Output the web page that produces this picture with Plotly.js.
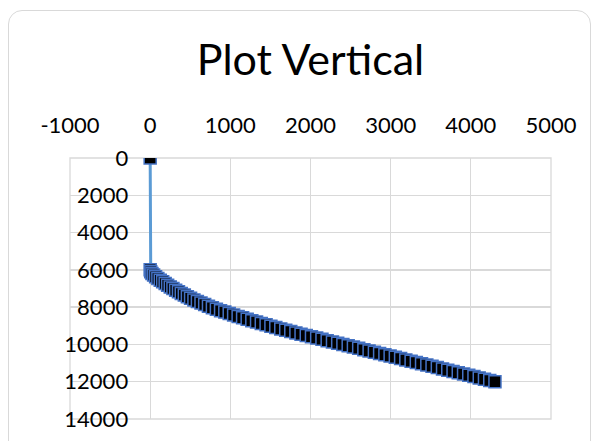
<!DOCTYPE html>
<html>
<head>
<meta charset="utf-8">
<script src="https://cdn.plot.ly/plotly-3.0.1.min.js"></script>
<style>
  html, body { margin: 0; padding: 0; background: #ffffff; }
  #wrap { position: relative; width: 598px; height: 441px; overflow: hidden; }
  #chart { position: absolute; left: 0; top: 0; width: 598px; height: 441px; }
  #frame { position: absolute; left: 8px; top: 10px; width: 581px; height: 470px;
           border: 1.5px solid #d9d9d9; border-radius: 14px; pointer-events: none; }
</style>
</head>
<body>
<div id="wrap">
  <div id="chart"></div>
  <div id="frame"></div>
</div>
<script>
// Horizontal displacement (x) and vertical depth (y)
const horizontal = [0, 0, 7, 22, 43, 68, 96, 126, 156, 187, 218, 251, 284, 318, 353, 388, 426, 464, 504, 546, 589, 634, 680, 727, 776, 826, 878, 931, 986, 1041, 1097, 1153, 1210, 1268, 1327, 1386, 1446, 1506, 1567, 1629, 1691, 1754, 1818, 1882, 1947, 2012, 2077, 2143, 2208, 2274, 2339, 2404, 2470, 2535, 2601, 2666, 2731, 2797, 2862, 2928, 2993, 3058, 3124, 3189, 3255, 3320, 3385, 3451, 3516, 3582, 3647, 3712, 3778, 3843, 3909, 3974, 4039, 4105, 4170, 4236, 4301];
const vertical = [0, 6000, 6095, 6189, 6281, 6373, 6464, 6554, 6644, 6734, 6823, 6913, 7002, 7090, 7179, 7267, 7354, 7441, 7527, 7613, 7697, 7781, 7864, 7946, 8028, 8108, 8188, 8267, 8345, 8422, 8499, 8575, 8651, 8727, 8802, 8876, 8950, 9023, 9096, 9168, 9240, 9311, 9381, 9451, 9521, 9590, 9659, 9728, 9797, 9866, 9935, 10003, 10072, 10141, 10210, 10279, 10348, 10417, 10486, 10555, 10624, 10692, 10761, 10830, 10899, 10968, 11037, 11106, 11175, 11244, 11313, 11382, 11450, 11519, 11588, 11657, 11726, 11795, 11864, 11933, 12002];
const xTickVals = [-1000, 0, 1000, 2000, 3000, 4000, 5000];
const yTickVals = [0, 2000, 4000, 6000, 8000, 10000, 12000, 14000];
const chartTitle = "Plot Vertical";

const FONT = "Lato, 'Liberation Sans', Arial, sans-serif";

const trace = {
  type: "scatter",
  mode: "lines+markers",
  x: horizontal,
  y: vertical,
  line: { color: "#5b9bd5", width: 3 },
  marker: { symbol: "square", size: 12, color: "#000000",
            line: { color: "#4472c4", width: 1.5 } },
  hoverinfo: "x+y",
  showlegend: false
};

const layout = {
  width: 598,
  height: 441,
  margin: { l: 70, r: 47, t: 158, b: 22, pad: 0 },
  paper_bgcolor: "rgba(0,0,0,0)",
  plot_bgcolor: "rgba(0,0,0,0)",
  font: { family: FONT, color: "#000000" },
  title: {
    text: chartTitle,
    font: { family: FONT, size: 43, color: "#000000" },
    xref: "paper", x: 0.5, xanchor: "center",
    yref: "container", y: 1 - 60 / 441, yanchor: "middle"
  },
  xaxis: {
    range: [-1000, 5000],
    side: "top",
    tickmode: "array",
    tickvals: xTickVals,
    ticktext: xTickVals.map(String),
    showgrid: true, gridcolor: "#d9d9d9", gridwidth: 1.3,
    zeroline: false, showline: false, ticks: "",
    ticklabelstandoff: 20,
    tickfont: { family: FONT, size: 22, color: "#000000" },
    fixedrange: true
  },
  yaxis: {
    range: [14000, 0],
    anchor: "free",
    position: 1 / 6,
    tickmode: "array",
    tickvals: yTickVals,
    ticktext: yTickVals.map(String),
    showgrid: true, gridcolor: "#d9d9d9", gridwidth: 1.3,
    zeroline: false, showline: false, ticks: "",
    ticklabelstandoff: 22,
    tickfont: { family: FONT, size: 22, color: "#000000" },
    fixedrange: true
  },
  shapes: [
    { type: "rect", xref: "paper", yref: "paper", x0: 0, x1: 1, y0: 0, y1: 1,
      line: { color: "#d9d9d9", width: 1.3 }, layer: "below" }
  ]
};

Plotly.newPlot("chart", [trace], layout, { displayModeBar: false, staticPlot: true });
</script>
</body>
</html>
